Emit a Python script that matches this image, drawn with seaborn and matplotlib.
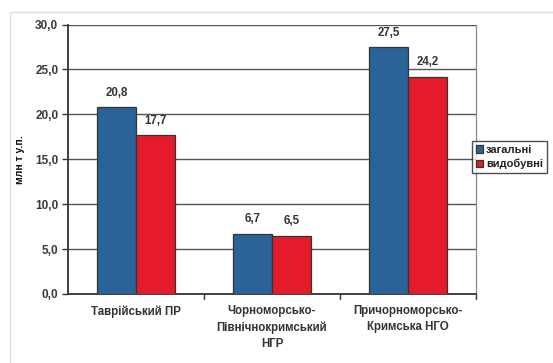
import matplotlib
matplotlib.use("Agg")
import matplotlib.pyplot as plt
from matplotlib.patches import Rectangle
import seaborn as sns
import pandas as pd

regions = ["Таврійський ПР", "Чорноморсько-\nПівнічнокримський\nНГР", "Причорноморсько-\nКримська НГО"]
total = [20.8, 6.7, 27.5]
extractable = [17.7, 6.5, 24.2]
series_names = ["загальні", "видобувні"]
y_ticks = [0, 5, 10, 15, 20, 25, 30]

df = pd.DataFrame({
    "region": regions * 2,
    "value": total + extractable,
    "series": [series_names[0]] * 3 + [series_names[1]] * 3,
})

sns.set_theme(style="white")
plt.rcParams["font.family"] = ["Liberation Sans", "DejaVu Sans"]

fig = plt.figure(figsize=(5.53, 3.63), dpi=100)
ax = fig.add_axes([68 / 553, 1 - 294 / 363, 408 / 553, 269.5 / 363])

palette = {"загальні": "#2b6298", "видобувні": "#e31b2b"}
sns.barplot(data=df, x="region", y="value", hue="series", palette=palette,
            width=0.575, edgecolor="#333333", linewidth=0.9, saturation=1,
            ax=ax, legend=True, zorder=3)

ax.set_ylim(0, 30)
ax.set_xlim(-0.5, 2.5)
ax.set_yticks(y_ticks)
ax.set_yticklabels([f"{v:.1f}".replace(".", ",") for v in y_ticks],
                   fontsize=8.5, fontweight="bold", color="#3a3a3a")
ax.yaxis.grid(True, color="#555555", linewidth=1.0, zorder=0)
ax.set_axisbelow(True)

ax.set_xticks([0, 1, 2])
ax.set_xticklabels(regions, fontsize=8.3, fontweight="bold", color="#333333", linespacing=1.45)
ax.tick_params(axis="x", length=0, pad=8)
ax.tick_params(axis="y", length=4, width=1.0, color="#333333", direction="out", left=True, pad=3)
for xb in [0.5, 1.5, 2.5]:
    ax.plot([xb, xb], [0, -0.6], color="#333333", lw=1.0, clip_on=False)

ax.set_xlabel("")
ax.set_ylabel("млн т у.п.", fontsize=7.5, fontweight="bold", color="#111111", labelpad=7)

for side in ["left", "bottom"]:
    ax.spines[side].set_color("#333333")
    ax.spines[side].set_linewidth(1.3)
ax.spines["right"].set_color("#888888")
ax.spines["right"].set_linewidth(0.9)
ax.spines["top"].set_visible(False)

for cont in ax.containers:
    labels = [f"{b.get_height():.1f}".replace(".", ",") for b in cont]
    ax.bar_label(cont, labels=labels, padding=6, fontsize=8.3, fontweight="bold", color="#333333")

leg = ax.legend(loc="upper left", bbox_to_anchor=(472 / 553, 1 - 141 / 363),
                bbox_transform=fig.transFigure, frameon=True, fancybox=False,
                fontsize=8, handlelength=0.6, handleheight=0.6, handletextpad=0.3,
                borderpad=0.35, labelspacing=0.35, borderaxespad=0)
leg.get_frame().set_edgecolor("#222222")
leg.get_frame().set_linewidth(1.0)
for t in leg.get_texts():
    t.set_fontweight("bold")
    t.set_color("#222222")
leg.set_zorder(10)

# light outer frame around the chart
fig.patches.append(Rectangle((10 / 553, -0.01), 1.0, 1 - 12 / 363 + 0.01,
                             transform=fig.transFigure, fill=False,
                             edgecolor="#dddddd", linewidth=1.0))

fig.savefig("out.png", dpi=100, facecolor="white")
